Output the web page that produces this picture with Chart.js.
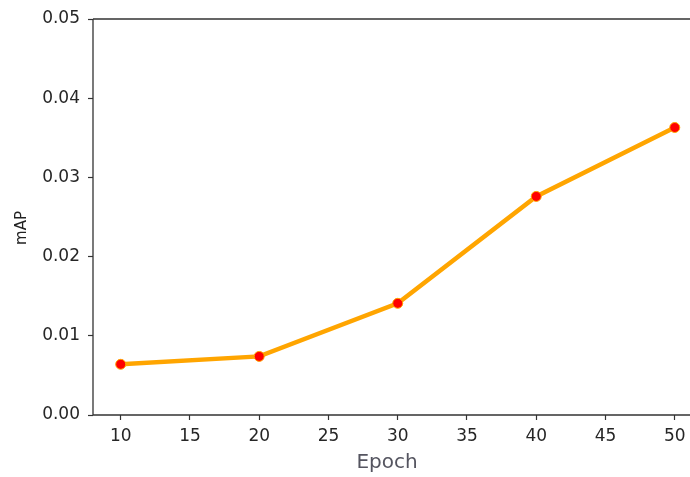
<!DOCTYPE html>
<html>
<head>
<meta charset="utf-8">
<script src="https://cdn.jsdelivr.net/npm/chart.js@4/dist/chart.umd.min.js"></script>
<style>
  html, body { margin: 0; padding: 0; background: #fff; overflow: hidden; }
  #wrap { position: relative; width: 690px; height: 477px; }
</style>
</head>
<body>
<div id="wrap"><canvas id="c"></canvas></div>
<script>
const epochs = [10, 20, 30, 40, 50];
const mapValues = [0.0064, 0.0074, 0.0141, 0.0276, 0.0363];
const xTickValues = [10, 15, 20, 25, 30, 35, 40, 45, 50];
const yTickValues = [0, 0.01, 0.02, 0.03, 0.04, 0.05];
const xLabel = 'Epoch';
const yLabel = 'mAP';

const FONT = "'DejaVu Sans', sans-serif";
const SPINE = '#333333';

const spinesAndTitles = {
  id: 'spinesAndTitles',
  afterDraw(chart) {
    const { ctx, chartArea: a } = chart;
    ctx.save();
    ctx.strokeStyle = SPINE;
    ctx.lineWidth = 1.3;
    ctx.beginPath();
    ctx.moveTo(a.left, a.top); ctx.lineTo(a.right, a.top);
    ctx.moveTo(a.left, a.top); ctx.lineTo(a.left, a.bottom);
    ctx.moveTo(a.left, a.bottom); ctx.lineTo(a.right, a.bottom);
    ctx.stroke();

    ctx.fillStyle = '#555560';
    ctx.font = '20px ' + FONT;
    ctx.textAlign = 'center';
    ctx.textBaseline = 'middle';
    ctx.fillText(xLabel, 387, 463);

    ctx.fillStyle = '#222222';
    ctx.font = '15px ' + FONT;
    ctx.translate(22, 228);
    ctx.rotate(-Math.PI / 2);
    ctx.fillText(yLabel, 0, 0);
    ctx.restore();
  }
};

new Chart(document.getElementById('c'), {
  type: 'line',
  data: {
    datasets: [{
      data: epochs.map((e, i) => ({ x: e, y: mapValues[i] })),
      borderColor: '#FFA500',
      borderWidth: 4.5,
      pointRadius: 5,
      pointBackgroundColor: '#FF0000',
      pointBorderColor: '#FFA500',
      pointBorderWidth: 1,
      tension: 0,
      fill: false,
      clip: false
    }]
  },
  options: {
    responsive: true,
    maintainAspectRatio: false,
    animation: false,
    layout: { autoPadding: false, padding: { top: 19, right: 0, left: 0, bottom: 0 } },
    plugins: { legend: { display: false }, tooltip: { enabled: false } },
    scales: {
      x: {
        type: 'linear',
        min: 8,
        max: 51.1,
        afterBuildTicks(scale) { scale.ticks = xTickValues.map(v => ({ value: v })); },
        afterFit(scale) { scale.height = 62; scale.paddingLeft = 0; scale.paddingRight = 0; },
        grid: { display: true, drawOnChartArea: false, drawTicks: true, tickLength: 5, tickColor: SPINE, tickWidth: 1.2 },
        border: { display: false },
        ticks: { color: '#262626', font: { family: FONT, size: 17 }, padding: 6, maxRotation: 0 }
      },
      y: {
        min: 0,
        max: 0.05,
        afterBuildTicks(scale) { scale.ticks = yTickValues.map(v => ({ value: v })); },
        afterFit(scale) { scale.width = 93; },
        grid: { display: true, drawOnChartArea: false, drawTicks: true, tickLength: 5, tickColor: SPINE, tickWidth: 1.2 },
        border: { display: false },
        ticks: { color: '#262626', font: { family: FONT, size: 17 }, padding: 8, callback: v => v.toFixed(2) }
      }
    }
  },
  plugins: [spinesAndTitles]
});
</script>
</body>
</html>
